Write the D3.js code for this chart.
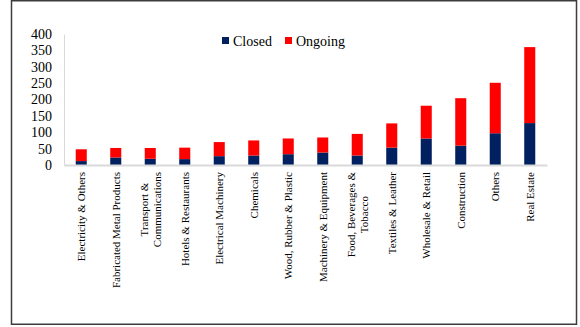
<!DOCTYPE html>
<html>
<head>
<meta charset="utf-8">
<script src="https://cdn.jsdelivr.net/npm/d3@7"></script>
<style>
  body { margin: 0; background: #fff; }
  svg { display: block; font-family: "Liberation Serif", "Times New Roman", serif; }
</style>
</head>
<body>
<svg id="chart" width="580" height="327"></svg>
<script>
// categories (lines split where the label wraps)
const categories = [
    ['Electricity & Others'],
    ['Fabricated Metal Products'],
    ['Transport &', 'Communications'],
    ['Hotels & Restaurants'],
    ['Electrical Machinery'],
    ['Chemicals'],
    ['Wood, Rubber & Plastic'],
    ['Machinery & Equipment'],
    ['Food, Beverages &', 'Tobacco'],
    ['Textiles & Leather'],
    ['Wholesale & Retail'],
    ['Construction'],
    ['Others'],
    ['Real Estate']
];
const closed  = [12, 23, 19, 18, 27, 29, 33, 38, 29, 53, 81, 59, 97, 128];
const ongoing = [36, 29, 33, 35, 43, 46, 48, 46, 66, 74, 100, 145, 154, 232];
const y_ticks = [0, 50, 100, 150, 200, 250, 300, 350, 400];

const colors = {closed: '#002060', ongoing: '#ff0000'};
const serif = '"Liberation Serif", "Times New Roman", serif';

const svg = d3.select('#chart');

// frame
svg.append('rect')
    .attr('x', 11.5).attr('y', 0.75)
    .attr('width', 565).attr('height', 323.5)
    .attr('fill', 'none')
    .attr('stroke', '#3c3c3c')
    .attr('stroke-width', 1.5);

const margin = {top: 34, left: 64, right: 33, bottom: 162};
const width = 580 - margin.left - margin.right;
const height = 327 - margin.top - margin.bottom;

const rows = categories.map((c, i) => ({key: i, closed: closed[i], ongoing: ongoing[i]}));

const x = d3.scaleBand().domain(d3.range(categories.length)).range([0, width]).paddingInner(0.68).paddingOuter(0.34);
const y = d3.scaleLinear().domain([0, 400]).range([height, 0]);

const g = svg.append('g').attr('transform', 'translate(' + margin.left + ',' + margin.top + ')');

// y axis
const yAxis = g.append('g').call(d3.axisLeft(y).tickValues(y_ticks).tickSize(0).tickPadding(12));
yAxis.attr('font-family', null);
yAxis.select('.domain').attr('stroke', '#d9d9d9');
yAxis.selectAll('text')
    .style('font-family', serif)
    .style('font-size', '14px')
    .attr('fill', '#000');

// stacked bars
const stack = d3.stack().keys(['closed', 'ongoing']);
const series = stack(rows);

g.selectAll('g.layer')
    .data(series)
    .enter().append('g')
    .attr('class', 'layer')
    .attr('fill', (d) => colors[d.key])
    .selectAll('rect')
    .data((d) => d)
    .enter().append('rect')
    .attr('x', (d) => x(d.data.key))
    .attr('width', x.bandwidth())
    .attr('y', (d) => y(d[1]))
    .attr('height', (d) => y(d[0]) - y(d[1]));

// x axis
const xAxis = g.append('g')
    .attr('transform', 'translate(0,' + height + ')')
    .call(d3.axisBottom(x).tickSize(0).tickFormat(''));
xAxis.attr('font-family', null);
xAxis.select('.domain').attr('stroke', '#d9d9d9').attr('stroke-width', 2);

const lineGap = 13;
xAxis.selectAll('.tick').each(function(i) {
    const lines = categories[i];
    const t = d3.select(this);
    lines.forEach((txt, j) => {
        const off = (j - (lines.length - 1) / 2) * lineGap;
        t.append('text')
            .attr('class', 'xl')
            .attr('transform', 'translate(' + off + ',7) rotate(-90)')
            .attr('dy', '0.35em')
            .attr('text-anchor', 'end')
            .style('font-family', serif)
            .style('font-size', '11px')
            .attr('fill', '#000')
            .text(txt);
    });
    // centre the shorter line under the longer one
    if (lines.length > 1) {
        const nodes = t.selectAll('text.xl').nodes();
        const lens = nodes.map((n) => n.getComputedTextLength());
        const maxLen = d3.max(lens);
        nodes.forEach((n, j) => {
            const off = (j - (lines.length - 1) / 2) * lineGap;
            const shift = (maxLen - lens[j]) / 2;
            d3.select(n).attr('transform', 'translate(' + off + ',' + (7 + shift) + ') rotate(-90)');
        });
    }
});

// legend
const legend = svg.append('g').attr('transform', 'translate(222,37)');
const legendItems = [{label: 'Closed', key: 'closed', x: 0}, {label: 'Ongoing', key: 'ongoing', x: 63}];
legendItems.forEach((d) => {
    legend.append('rect')
        .attr('x', d.x).attr('y', 0)
        .attr('width', 7).attr('height', 7)
        .attr('fill', colors[d.key]);
    legend.append('text')
        .attr('x', d.x + 11).attr('y', 8.5)
        .style('font-family', serif)
        .style('font-size', '14px')
        .attr('fill', '#000')
        .text(d.label);
});
</script>
</body>
</html>
